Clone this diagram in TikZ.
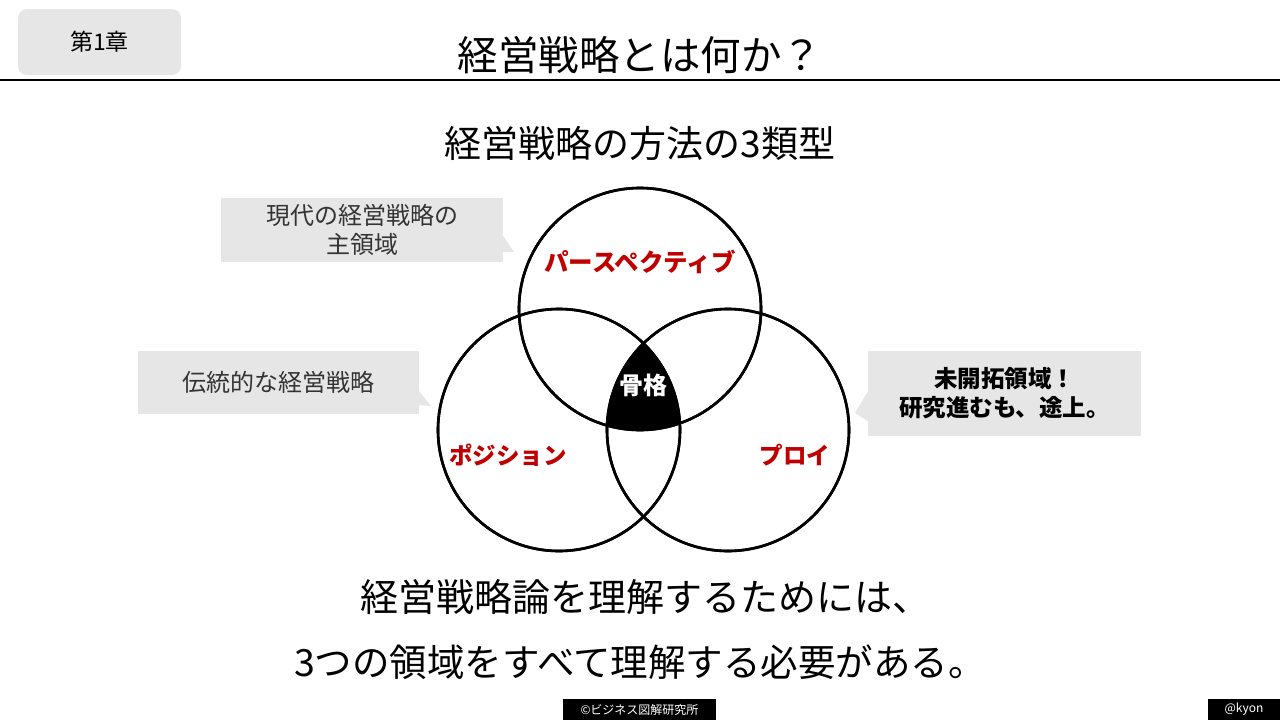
\documentclass[tikz,border=0pt]{standalone}
\usepackage{fontspec}
\setmainfont{Noto Sans CJK JP}
\usetikzlibrary{calc}

\definecolor{notegray}{HTML}{E6E6E6}
\definecolor{labelred}{HTML}{C00000}
\definecolor{notetext}{HTML}{333333}
\newcommand{\fsz}[2]{\fontsize{#1}{#2}\selectfont}

\tikzset{
    ring/.style={circle, draw, line width=2.6pt, minimum size=242pt, inner sep=0pt},
    note/.style={fill=notegray, text=notetext, align=center, inner sep=0pt},
    area/.style={text=labelred, font=\fsz{23.5}{27}\bfseries},
    tag/.style={fill=black, text=white, inner sep=0pt, font=\fsz{12}{14}}
}

\begin{document}
\begin{tikzpicture}[x=1pt, y=-1pt]
    \useasboundingbox (0,0) rectangle (1280,720);

    % header
    \node[fill=notegray, rounded corners=9pt, minimum width=163pt, minimum height=66pt] (chapter) at (99.5,42) {\fsz{23}{27}第1章};
    \node (title) at (640,55) {\fsz{40.5}{46}経営戦略とは何か？};
    \coordinate (ruleL) at (0,80);
    \coordinate (ruleR) at (1280,80);
    \draw[line width=1.4pt] (ruleL) -- (ruleR);

    \node (subtitle) at (640,143) {\fsz{37}{42}経営戦略の方法の3類型};

    % the three circles
    \node[ring] (persp) at (640,309) {};
    \node[ring] (posit) at (559,430) {};
    \node[ring] (ploy) at (728,430) {};

    \begin{scope}
        \clip (persp.center) circle (121pt);
        \clip (posit.center) circle (121pt);
        \fill (ploy.center) circle (121pt);
    \end{scope}
    \node[ring] at (persp.center) {};
    \node[ring] at (posit.center) {};
    \node[ring] at (ploy.center) {};

    \node[text=white, font=\fsz{24}{28}\bfseries] (core) at (643,385) {骨格};
    \node[area, font=\fsz{24.5}{28}\bfseries] (perspL) at (640,262) {パースペクティブ};
    \node[area] (positL) at (508,455) {ポジション};
    \node[area] (ployL) at (795,455) {プロイ};

    % callouts
    \node[note, minimum width=282pt, minimum height=64pt, font=\fsz{24}{29}] (modern) at (362,230) {現代の経営戦略の\\主領域};
    \fill[notegray] ($(modern.east)+(0,6)$) -- (514,252) -- ($(modern.south east)+(0,-10)$) -- cycle;

    \node[note, minimum width=281pt, minimum height=63pt, font=\fsz{24}{28}] (classic) at (278,382.5) {伝統的な経営戦略};
    \fill[notegray] ($(classic.east)+(0,8)$) -- (431,406) -- ($(classic.south east)+(0,-9)$) -- cycle;

    \node[note, text=black, minimum width=273pt, minimum height=85pt, font=\fsz{23.5}{29}\bfseries] (frontier) at (1004.5,393.5) {未開拓領域！\\研究進むも、途上。};
    \fill[notegray] ($(frontier.west)+(0,-2)$) -- (855,413) -- ($(frontier.south west)+(0,-15)$) -- cycle;

    % conclusion
    \node (concl1) at (645,597) {\fsz{38}{44}経営戦略論を理解するためには、};
    \node (concl2) at (640,662) {\fsz{37.5}{44}3つの領域をすべて理解する必要がある。};

    % footer
    \node[tag, minimum width=153pt, minimum height=21pt] (credit) at (639.5,709.5) {©ビジネス図解研究所};
    \node[tag, minimum width=72pt, minimum height=21pt] (author) at (1244,709.5) {@kyon};
\end{tikzpicture}
\end{document}
